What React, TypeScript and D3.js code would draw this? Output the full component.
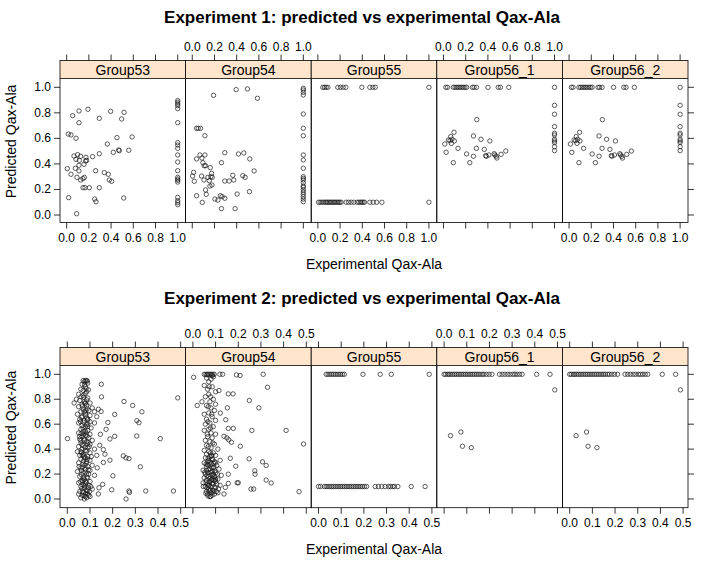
import React from "react";
import * as d3 from "d3";

type P = [number, number];

const groups = ["Group53", "Group54", "Group55", "Group56_1", "Group56_2"];
const titles = [
  "Experiment 1: predicted vs experimental Qax-Ala",
  "Experiment 2: predicted vs experimental Qax-Ala",
];
const xTicks1 = [0, 0.2, 0.4, 0.6, 0.8, 1.0];
const xTicks2 = [0, 0.1, 0.2, 0.3, 0.4, 0.5];
const yTicks = [0, 0.2, 0.4, 0.6, 0.8, 1.0];
const xLabel = "Experimental Qax-Ala";
const yLabel = "Predicted Qax-Ala";

// ---------- Experiment 1 ----------
const e1g53: P[] = [
  [0.054, 0.778], [0.111, 0.815], [0.192, 0.828], [0.111, 0.723], [0.294, 0.757], [0.396, 0.812],
  [0.517, 0.804], [0.495, 0.752], [0.015, 0.634], [0.039, 0.627], [0.084, 0.601], [0.453, 0.606],
  [0.589, 0.611], [0.366, 0.556], [0.42, 0.491], [0.468, 0.509], [0.474, 0.504], [0.559, 0.507],
  [0.294, 0.48], [0.234, 0.457], [0.066, 0.462], [0.099, 0.473], [0.126, 0.46], [0.084, 0.436],
  [0.114, 0.428], [0.174, 0.452], [0.171, 0.423], [0.18, 0.428], [0.156, 0.397], [0.111, 0.389],
  [0.006, 0.363], [0.078, 0.366], [0.039, 0.319], [0.111, 0.345], [0.261, 0.347], [0.339, 0.332],
  [0.375, 0.319], [0.093, 0.295], [0.126, 0.274], [0.147, 0.285], [0.159, 0.295], [0.384, 0.274],
  [0.405, 0.264], [0.147, 0.214], [0.165, 0.214], [0.204, 0.214], [0.294, 0.214], [0.018, 0.136],
  [0.252, 0.125], [0.264, 0.104], [0.514, 0.133], [0.09, 0.01],
  [1, 0.896], [1, 0.883], [1, 0.87], [1, 0.856], [1, 0.833], [1, 0.723], [1, 0.567], [1, 0.548],
  [1, 0.522], [1, 0.47], [1, 0.415], [1, 0.347], [1, 0.295], [1, 0.282], [1, 0.272], [1, 0.258],
  [1, 0.138], [1, 0.112], [1, 0.097], [1, 0.081],
];
const e1g54: P[] = [
  [0.192, 0.937], [0.395, 0.982], [0.497, 0.987], [0.587, 0.914], [0.039, 0.679], [0.054, 0.679],
  [0.075, 0.679], [0.114, 0.621], [0.069, 0.47], [0.114, 0.47], [0.039, 0.439], [0.087, 0.446],
  [0.096, 0.41], [0.12, 0.386], [0.108, 0.386], [0.162, 0.371], [0.293, 0.488], [0.416, 0.478],
  [0.464, 0.486], [0.518, 0.439], [0.263, 0.41], [0.557, 0.345], [0.012, 0.334], [0.003, 0.305],
  [0.018, 0.264], [0.084, 0.305], [0.105, 0.274], [0.141, 0.295], [0.168, 0.3], [0.174, 0.326],
  [0.18, 0.295], [0.153, 0.269], [0.159, 0.227], [0.177, 0.235], [0.12, 0.196], [0.126, 0.162],
  [0.039, 0.151], [0.09, 0.099], [0.293, 0.266], [0.332, 0.266], [0.374, 0.274], [0.365, 0.311],
  [0.455, 0.308], [0.476, 0.295], [0.515, 0.183], [0.404, 0.164], [0.254, 0.151], [0.269, 0.144],
  [0.293, 0.131], [0.204, 0.125], [0.231, 0.117], [0.263, 0.05], [0.386, 0.05],
  [1, 0.992], [1, 0.979], [1, 0.961], [1, 0.94], [1, 0.791], [1, 0.679], [1, 0.621], [1, 0.47],
  [1, 0.431], [1, 0.366], [1, 0.3], [1, 0.287], [1, 0.274], [1, 0.253], [1, 0.227], [1, 0.217],
  [1, 0.196], [1, 0.178], [1, 0.162], [1, 0.144], [1, 0.125], [1, 0.104],
];
const e1g55: P[] = [
  [0.045, 1], [0.06, 1], [0.075, 1], [0.09, 1], [0.18, 1], [0.204, 1], [0.228, 1], [0.252, 1],
  [0.396, 1], [0.468, 1], [0.495, 1], [0.517, 1], [1, 1],
  [0.006, 0.1], [0.021, 0.1], [0.036, 0.1], [0.051, 0.1], [0.066, 0.1], [0.078, 0.1], [0.09, 0.1],
  [0.102, 0.1], [0.114, 0.1], [0.126, 0.1], [0.138, 0.1], [0.15, 0.1], [0.162, 0.1], [0.174, 0.1],
  [0.186, 0.1], [0.198, 0.1], [0.21, 0.1], [0.255, 0.1], [0.276, 0.1], [0.3, 0.1], [0.324, 0.1],
  [0.354, 0.1], [0.369, 0.1], [0.384, 0.1], [0.396, 0.1], [0.408, 0.1], [0.42, 0.1], [0.468, 0.1],
  [0.498, 0.1], [0.529, 0.1], [0.577, 0.1], [1, 0.1],
];
const e1g56: P[] = [
  [0.021, 1], [0.036, 1], [0.089, 1], [0.104, 1], [0.119, 1], [0.134, 1], [0.148, 1], [0.163, 1],
  [0.178, 1], [0.193, 1], [0.208, 1], [0.261, 1], [0.276, 1], [0.297, 1], [0.401, 1], [0.493, 1],
  [0.513, 1], [0.588, 1],
  [0.3, 0.747], [0.095, 0.648], [0.065, 0.614], [0.045, 0.587], [0.059, 0.582], [0.077, 0.593],
  [0.098, 0.58], [0.071, 0.561], [0.012, 0.556], [0.27, 0.619], [0.338, 0.593], [0.418, 0.58],
  [0.131, 0.522], [0.297, 0.522], [0.368, 0.514], [0.024, 0.491], [0.208, 0.478], [0.27, 0.46],
  [0.38, 0.465], [0.409, 0.47], [0.457, 0.48], [0.463, 0.47], [0.475, 0.46], [0.481, 0.446],
  [0.519, 0.475], [0.561, 0.501], [0.386, 0.46], [0.089, 0.41], [0.237, 0.41],
  [1, 1], [1, 0.859], [1, 0.789], [1, 0.692], [1, 0.64], [1, 0.627], [1, 0.593], [1, 0.58],
  [1, 0.567], [1, 0.535], [1, 0.504],
];

// ---------- Experiment 2 ----------
const e2g53: P[] = [
  [0.08, 0.95], [0.088, 0.945], [0.15, 0.92], [0.093, 0.875], [0.151, 0.819], [0.25, 0.782],
  [0.288, 0.75], [0.329, 0.699], [0.209, 0.678], [0.487, 0.811], [0.149, 0.702], [0.137, 0.72],
  [0.179, 0.614], [0.307, 0.628], [0.316, 0.612], [0.171, 0.559], [0.146, 0.519], [0.188, 0.481],
  [0.209, 0.503], [0.306, 0.505], [0.41, 0.484], [0.001, 0.484], [0.143, 0.431], [0.159, 0.396],
  [0.166, 0.359], [0.247, 0.346], [0.259, 0.33], [0.272, 0.324], [0.188, 0.311], [0.159, 0.293],
  [0.132, 0.25], [0.322, 0.258], [0.201, 0.186], [0.156, 0.117], [0.14, 0.09], [0.196, 0.074],
  [0.272, 0.064], [0.274, 0.053], [0.346, 0.064], [0.468, 0.064], [0.259, 0.0], [0.137, 0.04],
  [0.07, 0.95], [0.075, 0.94], [0.085, 0.95], [0.09, 0.93], [0.065, 0.92], [0.08, 0.9], [0.06, 0.88],
  [0.085, 0.86], [0.05, 0.84], [0.07, 0.83], [0.06, 0.82], [0.09, 0.81], [0.04, 0.8], [0.055, 0.79],
  [0.075, 0.78], [0.03, 0.77], [0.065, 0.76], [0.1, 0.77], [0.085, 0.75], [0.05, 0.74], [0.07, 0.72],
  [0.11, 0.73], [0.095, 0.71], [0.06, 0.7], [0.12, 0.7], [0.08, 0.69], [0.045, 0.68], [0.1, 0.67],
  [0.065, 0.66], [0.13, 0.66], [0.085, 0.65], [0.055, 0.64], [0.075, 0.63], [0.1, 0.62], [0.05, 0.61],
  [0.09, 0.6], [0.12, 0.61], [0.065, 0.59], [0.08, 0.58], [0.105, 0.57], [0.06, 0.56], [0.09, 0.55],
  [0.07, 0.54], [0.05, 0.53], [0.1, 0.52], [0.08, 0.51], [0.065, 0.5], [0.095, 0.49], [0.055, 0.48],
  [0.075, 0.47], [0.11, 0.47], [0.085, 0.46], [0.06, 0.45], [0.1, 0.44], [0.07, 0.43], [0.05, 0.42],
  [0.09, 0.41], [0.12, 0.4], [0.065, 0.4], [0.08, 0.39], [0.045, 0.38], [0.1, 0.37], [0.07, 0.36],
  [0.055, 0.35], [0.09, 0.34], [0.13, 0.35], [0.075, 0.33], [0.06, 0.32], [0.1, 0.31], [0.085, 0.3],
  [0.05, 0.29], [0.07, 0.28], [0.11, 0.27], [0.09, 0.26], [0.06, 0.25], [0.08, 0.24], [0.1, 0.23],
  [0.045, 0.22], [0.07, 0.21], [0.085, 0.2], [0.12, 0.19], [0.055, 0.18], [0.09, 0.17], [0.075, 0.16],
  [0.065, 0.15], [0.1, 0.14], [0.05, 0.13], [0.08, 0.12], [0.095, 0.11], [0.06, 0.1], [0.075, 0.09],
  [0.11, 0.08], [0.085, 0.07], [0.055, 0.06], [0.07, 0.05], [0.09, 0.04], [0.065, 0.03], [0.08, 0.02],
  [0.1, 0.02], [0.06, 0.01], [0.075, 0.0], [0.085, 0.01], [0.095, 0.03], [0.05, 0.04], [0.07, 0.11],
  [0.08, 0.33], [0.06, 0.47], [0.09, 0.64], [0.07, 0.87], [0.08, 0.77], [0.09, 0.58], [0.06, 0.38],
  [0.08, 0.14], [0.07, 0.17], [0.078, 0.27], [0.062, 0.23], [0.088, 0.44], [0.072, 0.52],
  [0.058, 0.62], [0.082, 0.71], [0.068, 0.06], [0.092, 0.09], [0.083, 0.53], [0.066, 0.35],
  [0.074, 0.025], [0.081, 0.045], [0.088, 0.065], [0.064, 0.085], [0.077, 0.105], [0.084, 0.13],
  [0.069, 0.145], [0.086, 0.175], [0.062, 0.195], [0.079, 0.215], [0.093, 0.235], [0.067, 0.255],
  [0.083, 0.285], [0.071, 0.305], [0.089, 0.32], [0.074, 0.345], [0.063, 0.37], [0.086, 0.385],
  [0.078, 0.415], [0.065, 0.435], [0.092, 0.455], [0.073, 0.48], [0.087, 0.505], [0.061, 0.525],
  [0.079, 0.545], [0.069, 0.57], [0.084, 0.595], [0.071, 0.615], [0.09, 0.635], [0.063, 0.655],
  [0.081, 0.675], [0.074, 0.7], [0.088, 0.725], [0.066, 0.745], [0.078, 0.765], [0.085, 0.795],
  [0.072, 0.815], [0.079, 0.845], [0.083, 0.885], [0.076, 0.915], [0.094, 0.2], [0.098, 0.06],
  [0.104, 0.1], [0.058, 0.14], [0.052, 0.26], [0.106, 0.34], [0.097, 0.42], [0.054, 0.5],
];
const e2g54: P[] = [
  [0.05, 1], [0.057, 1], [0.064, 1], [0.07, 1], [0.076, 1], [0.082, 1], [0.088, 1], [0.094, 1],
  [0.003, 0.976], [0.119, 1], [0.131, 1], [0.192, 0.995], [0.208, 0.99], [0.31, 1], [0.329, 0.896],
  [0.156, 0.843], [0.177, 0.843], [0.249, 0.79], [0.291, 0.731], [0.115, 0.87], [0.019, 0.75],
  [0.04, 0.78], [0.152, 0.731], [0.121, 0.689], [0.145, 0.636], [0.156, 0.566], [0.178, 0.566],
  [0.26, 0.55], [0.411, 0.55], [0.488, 0.441], [0.209, 0.423], [0.137, 0.503], [0.15, 0.49],
  [0.158, 0.475], [0.17, 0.455], [0.165, 0.327], [0.248, 0.322], [0.189, 0.263], [0.307, 0.298],
  [0.323, 0.269], [0.273, 0.226], [0.274, 0.199], [0.323, 0.152], [0.345, 0.128], [0.195, 0.13],
  [0.2, 0.13], [0.156, 0.125], [0.156, 0.199], [0.143, 0.093], [0.256, 0.08], [0.268, 0.08],
  [0.137, 0.04], [0.468, 0.059], [0.077, 0.019],
  [0.06, 0.97], [0.08, 0.96], [0.09, 0.98], [0.07, 0.94], [0.05, 0.91], [0.085, 0.9], [0.065, 0.88],
  [0.1, 0.86], [0.07, 0.84], [0.055, 0.82], [0.09, 0.8], [0.075, 0.78], [0.1, 0.76], [0.06, 0.75],
  [0.08, 0.73], [0.095, 0.71], [0.07, 0.69], [0.05, 0.68], [0.085, 0.66], [0.06, 0.64], [0.1, 0.63],
  [0.075, 0.61], [0.055, 0.6], [0.09, 0.58], [0.07, 0.56], [0.05, 0.55], [0.08, 0.53], [0.1, 0.52],
  [0.065, 0.5], [0.085, 0.49], [0.055, 0.47], [0.075, 0.46], [0.095, 0.44], [0.06, 0.43],
  [0.08, 0.41], [0.11, 0.4], [0.05, 0.39], [0.07, 0.38], [0.09, 0.37], [0.06, 0.36], [0.1, 0.35],
  [0.075, 0.34], [0.055, 0.33], [0.085, 0.32], [0.12, 0.31], [0.065, 0.3], [0.095, 0.3],
  [0.05, 0.29], [0.08, 0.28], [0.105, 0.27], [0.07, 0.27], [0.06, 0.26], [0.09, 0.25], [0.115, 0.24],
  [0.075, 0.24], [0.045, 0.23], [0.085, 0.22], [0.1, 0.21], [0.065, 0.21], [0.055, 0.2], [0.08, 0.19],
  [0.125, 0.19], [0.095, 0.18], [0.07, 0.18], [0.05, 0.17], [0.11, 0.16], [0.085, 0.16], [0.06, 0.15],
  [0.075, 0.14], [0.1, 0.14], [0.045, 0.13], [0.09, 0.12], [0.065, 0.12], [0.12, 0.11], [0.08, 0.1],
  [0.055, 0.1], [0.1, 0.09], [0.07, 0.08], [0.09, 0.07], [0.06, 0.06], [0.08, 0.05], [0.11, 0.05],
  [0.065, 0.04], [0.085, 0.03], [0.075, 0.02], [0.095, 0.04], [0.07, 0.11], [0.08, 0.15],
  [0.09, 0.2], [0.06, 0.23], [0.1, 0.29], [0.07, 0.31], [0.083, 0.35], [0.062, 0.09],
  [0.105, 0.12], [0.058, 0.28], [0.092, 0.15], [0.078, 0.07],
  [0.066, 0.025], [0.088, 0.055], [0.072, 0.065], [0.094, 0.095], [0.068, 0.105], [0.084, 0.125],
  [0.058, 0.135], [0.098, 0.155], [0.074, 0.165], [0.062, 0.185], [0.088, 0.195], [0.078, 0.215],
  [0.052, 0.215], [0.097, 0.225], [0.069, 0.235], [0.083, 0.255], [0.064, 0.275], [0.092, 0.285],
  [0.076, 0.295], [0.087, 0.315], [0.067, 0.325], [0.081, 0.345], [0.1, 0.16], [0.108, 0.2],
  [0.113, 0.08], [0.046, 0.1], [0.057, 0.045], [0.103, 0.06], [0.071, 0.135], [0.093, 0.255],
  [0.078, 0.37], [0.068, 0.42], [0.088, 0.45], [0.063, 0.52], [0.078, 0.57], [0.066, 0.62],
  [0.083, 0.68], [0.068, 0.74], [0.078, 0.82], [0.072, 0.9], [0.062, 0.995], [0.085, 0.99],
];
const e2g55: P[] = [
  [0.034, 1], [0.042, 1], [0.05, 1], [0.058, 1], [0.066, 1], [0.074, 1], [0.082, 1], [0.09, 1],
  [0.098, 1], [0.106, 1], [0.114, 1], [0.196, 1], [0.272, 1], [0.321, 1], [0.488, 1],
  [0.0, 0.1], [0.009, 0.1], [0.026, 0.1], [0.034, 0.1], [0.042, 0.1], [0.05, 0.1], [0.058, 0.1],
  [0.066, 0.1], [0.074, 0.1], [0.082, 0.1], [0.09, 0.1], [0.098, 0.1], [0.106, 0.1], [0.114, 0.1],
  [0.122, 0.1], [0.13, 0.1], [0.138, 0.1], [0.146, 0.1], [0.154, 0.1], [0.162, 0.1], [0.17, 0.1],
  [0.178, 0.1], [0.186, 0.1], [0.194, 0.1], [0.203, 0.1], [0.212, 0.1], [0.25, 0.1], [0.264, 0.1],
  [0.279, 0.1], [0.294, 0.1], [0.309, 0.1], [0.318, 0.1], [0.328, 0.1], [0.335, 0.1], [0.35, 0.1],
  [0.409, 0.1], [0.47, 0.1],
];
const e2g56: P[] = [
  [0.0, 1], [0.007, 1], [0.016, 1], [0.022, 1], [0.03, 1], [0.038, 1], [0.046, 1], [0.054, 1],
  [0.062, 1], [0.07, 1], [0.078, 1], [0.086, 1], [0.094, 1], [0.102, 1], [0.11, 1], [0.118, 1],
  [0.126, 1], [0.134, 1], [0.142, 1], [0.15, 1], [0.158, 1], [0.167, 1], [0.175, 1], [0.186, 1],
  [0.198, 1], [0.211, 1], [0.244, 1], [0.256, 1], [0.268, 1], [0.28, 1], [0.291, 1], [0.303, 1],
  [0.312, 1], [0.322, 1], [0.333, 1], [0.344, 1], [0.408, 1], [0.467, 1], [0.488, 0.875],
  [0.028, 0.508], [0.074, 0.537], [0.081, 0.423], [0.12, 0.412],
];

const exp1Data = [e1g53, e1g54, e1g55, e1g56, e1g56];
const exp2Data = [e2g53, e2g54, e2g55, e2g56, e2g56];

const FONT = "'Liberation Sans', Arial, Helvetica, sans-serif";
const W = 704;
const H = 564;
const panelLeft = 60;
const panelW = 125.6;

interface BlockCfg {
  title: string;
  titleY: number;
  data: P[][];
  xDomain: [number, number];
  yDomain: [number, number];
  xTicks: number[];
  stripTop: number;
  panelTop: number;
  panelBottom: number;
}

const blocks: BlockCfg[] = [
  {
    title: titles[0], titleY: 23, data: exp1Data, xDomain: [-0.06, 1.071], yDomain: [-0.0587, 1.069],
    xTicks: xTicks1, stripTop: 60.5, panelTop: 78.5, panelBottom: 222.5,
  },
  {
    title: titles[1], titleY: 304, data: exp2Data, xDomain: [-0.0322, 0.5216], yDomain: [-0.0698, 1.0706],
    xTicks: xTicks2, stripTop: 347.5, panelTop: 365.5, panelBottom: 507.7,
  },
];

const fmt = d3.format(".1f");

function Block({ b }: { b: BlockCfg }) {
  const y = d3.scaleLinear().domain(b.yDomain).range([b.panelBottom, b.panelTop]);
  const right = panelLeft + panelW * 5;
  const midY = (b.stripTop + b.panelBottom) / 2;
  return (
    <g>
      <text x={W / 2 + 10} y={b.titleY} textAnchor="middle" fontWeight="bold" fontSize={17} fontFamily={FONT}>
        {b.title}
      </text>
      {groups.map((g, i) => {
        const x0 = panelLeft + i * panelW;
        const x = d3.scaleLinear().domain(b.xDomain).range([x0, x0 + panelW]);
        const pts = b.data[i];
        const topLabels = i % 2 === 1;
        return (
          <g key={g}>
            <rect x={x0} y={b.stripTop} width={panelW} height={b.panelTop - b.stripTop} fill="#ffe5cc" stroke="none" />
            <line x1={x0} x2={x0 + panelW} y1={b.panelTop} y2={b.panelTop} stroke="#000" strokeWidth={0.8} />
            <text x={x0 + panelW / 2} y={b.panelTop - 4} textAnchor="middle" fontSize={14} fontFamily={FONT}>
              {g}
            </text>
            <rect x={x0} y={b.stripTop} width={panelW} height={b.panelBottom - b.stripTop} fill="none" stroke="#000" strokeWidth={0.8} />
            {b.xTicks.map((t) => (
              <g key={t}>
                <line x1={x(t)} x2={x(t)} y1={b.panelBottom} y2={b.panelBottom + 6} stroke="#000" strokeWidth={0.8} />
                <line x1={x(t)} x2={x(t)} y1={b.stripTop} y2={b.stripTop - 6} stroke="#000" strokeWidth={0.8} />
                {topLabels ? (
                  <text x={x(t)} y={b.stripTop - 10} textAnchor="middle" fontSize={12} fontFamily={FONT}>
                    {fmt(t)}
                  </text>
                ) : (
                  <text x={x(t)} y={b.panelBottom + 19.5} textAnchor="middle" fontSize={12} fontFamily={FONT}>
                    {fmt(t)}
                  </text>
                )}
              </g>
            ))}
            <g>
              {pts.map((p, k) => (
                <circle key={k} cx={x(p[0])} cy={y(p[1])} r={2.2} fill="none" stroke="#1a1a1a" strokeWidth={0.7} />
              ))}
            </g>
          </g>
        );
      })}
      {yTicks.map((t) => (
        <g key={t}>
          <line x1={panelLeft} x2={panelLeft - 6} y1={y(t)} y2={y(t)} stroke="#000" strokeWidth={0.8} />
          <line x1={right} x2={right + 6} y1={y(t)} y2={y(t)} stroke="#000" strokeWidth={0.8} />
          <text x={panelLeft - 9} y={y(t) + 4} textAnchor="end" fontSize={12} fontFamily={FONT}>
            {fmt(t)}
          </text>
        </g>
      ))}
      <text
        transform={`translate(16,${midY}) rotate(-90)`}
        textAnchor="middle"
        fontSize={14}
        fontFamily={FONT}
      >
        {yLabel}
      </text>
      <text x={(panelLeft + right) / 2} y={b.panelBottom + 46} textAnchor="middle" fontSize={14} fontFamily={FONT}>
        {xLabel}
      </text>
    </g>
  );
}

export default function App() {
  return (
    <svg width={W} height={H} style={{ display: "block", position: "absolute", left: 0, top: 0, background: "#fff" }}>
      <rect width={W} height={H} fill="#fff" />
      {blocks.map((b, i) => (
        <Block key={i} b={b} />
      ))}
    </svg>
  );
}
